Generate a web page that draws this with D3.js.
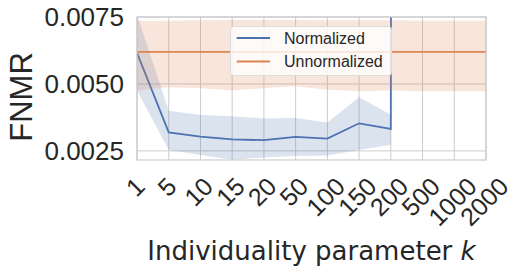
<!DOCTYPE html>
<html>
<head>
<meta charset="utf-8">
<script src="https://cdn.jsdelivr.net/npm/d3@7"></script>
<style>
  body { margin: 0; background: #fff; }
  text { fill: #262626; }
</style>
</head>
<body>
<div id="chart"></div>
<script>
// k values on the x axis (categorical)
var kValues = ["1", "5", "10", "15", "20", "50", "100", "150", "200", "500", "1000", "2000"];

// Normalized: mean and band (500+ goes off the chart)
var normMean  = [0.00616, 0.00319, 0.00303, 0.00293, 0.00290, 0.00302, 0.00296, 0.00353, 0.00332, 1.0, 1.0, 1.0];
var normUpper = [0.00760, 0.00400, 0.00384, 0.00379, 0.00371, 0.00373, 0.00356, 0.00450, 0.00385, 1.0, 1.0, 1.0];
var normLower = [0.00476, 0.00253, 0.00235, 0.00217, 0.00225, 0.00231, 0.00233, 0.00253, 0.00273, 0.98, 0.98, 0.98];

// Unnormalized: flat mean and band
var unMean  = [0.0062, 0.0062, 0.0062, 0.0062, 0.0062, 0.0062, 0.0062, 0.0062, 0.0062, 0.0062, 0.0062, 0.0062];
var unUpper = [0.00735, 0.00736, 0.00738, 0.00739, 0.00739, 0.00739, 0.00738, 0.00738, 0.00738, 0.00736, 0.00736, 0.00736];
var unLower = [0.00476, 0.00488, 0.00484, 0.00476, 0.00484, 0.00491, 0.00478, 0.00473, 0.00476, 0.00473, 0.00473, 0.00473];

var yTicks = [0.0025, 0.0050, 0.0075];
var seriesNames = ["Normalized", "Unnormalized"];
var seriesColors = ["#4c72b0", "#dd8452"];

var width = 525, height = 279;
var pLeft = 137, pRight = 486, pTop = 17, pBottom = 160;

var svg = d3.select("#chart").append("svg")
    .attr("width", width)
    .attr("height", height);

var x = d3.scalePoint()
    .domain(kValues)
    .range([pLeft, pRight]);

var y = d3.scaleLinear()
    .domain([0.00216, 0.0075])
    .range([pBottom, pTop]);

svg.append("clipPath").attr("id", "plotclip")
  .append("rect")
    .attr("x", pLeft).attr("y", pTop)
    .attr("width", pRight - pLeft).attr("height", pBottom - pTop);

// grid
svg.append("g").selectAll("line")
    .data(kValues)
  .enter().append("line")
    .attr("x1", function(d) { return x(d); })
    .attr("x2", function(d) { return x(d); })
    .attr("y1", pTop).attr("y2", pBottom)
    .style("stroke", "#cccccc").style("stroke-width", 1);

svg.append("g").selectAll("line")
    .data(yTicks)
  .enter().append("line")
    .attr("x1", pLeft).attr("x2", pRight)
    .attr("y1", function(d) { return y(d); })
    .attr("y2", function(d) { return y(d); })
    .style("stroke", "#cccccc").style("stroke-width", 1);

var series = [
  { mean: normMean, upper: normUpper, lower: normLower },
  { mean: unMean, upper: unUpper, lower: unLower }
];

var area = d3.area()
    .x(function(d) { return x(d.k); })
    .y0(function(d) { return y(d.lo); })
    .y1(function(d) { return y(d.hi); });

var line = d3.line()
    .x(function(d) { return x(d.k); })
    .y(function(d) { return y(d.v); });

var plot = svg.append("g").attr("clip-path", "url(#plotclip)");

series.forEach(function(s, i) {
  var pts = kValues.map(function(k, j) {
    return { k: k, v: s.mean[j], hi: s.upper[j], lo: s.lower[j] };
  });
  plot.append("path")
      .datum(pts)
      .attr("d", area)
      .style("fill", seriesColors[i])
      .style("fill-opacity", 0.2)
      .style("stroke", "none");
  plot.append("path")
      .datum(pts)
      .attr("d", line)
      .style("fill", "none")
      .style("stroke", seriesColors[i])
      .style("stroke-width", 1.8);
});

// frame
svg.append("rect")
    .attr("x", pLeft).attr("y", pTop)
    .attr("width", pRight - pLeft).attr("height", pBottom - pTop)
    .style("fill", "none")
    .style("stroke", "#cccccc")
    .style("stroke-width", 1.25);

// y tick labels
svg.append("g").selectAll("text")
    .data(yTicks)
  .enter().append("text")
    .attr("x", 124)
    .attr("y", function(d) { return y(d); })
    .attr("dy", "0.36em")
    .attr("text-anchor", "end")
    .style("font-family", "'Liberation Sans', Arial, sans-serif")
    .style("font-size", "26px")
    .text(function(d) { return d3.format(".4f")(d); });

// x tick labels, rotated 45deg and centred under each tick
var capH = 25 * 0.716;
svg.append("g").selectAll("text")
    .data(kValues)
  .enter().append("text")
    .attr("text-anchor", "middle")
    .attr("dy", "0.36em")
    .style("font-family", "'Liberation Sans', Arial, sans-serif")
    .style("font-size", "25px")
    .text(function(d) { return d; })
    .each(function(d) {
      var w = this.getComputedTextLength();
      var cy = 175.5 + (w + capH) * Math.SQRT1_2 / 2;
      d3.select(this).attr("transform", "translate(" + (x(d) - 2) + "," + cy + ") rotate(-45)");
    });

// axis labels
var xl = svg.append("text")
    .attr("x", (pLeft + pRight) / 2)
    .attr("y", 259.5)
    .attr("text-anchor", "middle")
    .style("font-family", "'DejaVu Sans', sans-serif")
    .style("font-size", "26px");
xl.append("tspan").text("Individuality parameter ");
xl.append("tspan").style("font-style", "italic").text("k");

svg.append("text")
    .attr("transform", "translate(32,97) rotate(-90)")
    .attr("text-anchor", "middle")
    .style("font-family", "'Liberation Sans', Arial, sans-serif")
    .style("font-size", "31px")
    .text("FNMR");

// legend
var legend = svg.append("g");
legend.append("rect")
    .attr("x", 230.5).attr("y", 26.5)
    .attr("width", 161).attr("height", 49)
    .attr("rx", 3)
    .style("fill", "#ffffff").style("fill-opacity", 0.8)
    .style("stroke", "#dcdcdc").style("stroke-width", 1);

var entry = legend.selectAll("g.entry")
    .data(seriesNames)
  .enter().append("g")
    .attr("class", "entry")
    .attr("transform", function(d, i) { return "translate(0," + (38 + i * 23.5) + ")"; });

entry.append("line")
    .attr("x1", 236.7).attr("x2", 270)
    .style("stroke", function(d, i) { return seriesColors[i]; })
    .style("stroke-width", 1.8);

entry.append("text")
    .attr("x", 284)
    .attr("dy", "0.36em")
    .style("font-family", "'Liberation Sans', Arial, sans-serif")
    .style("font-size", "16px")
    .text(function(d) { return d; });
</script>
</body>
</html>
